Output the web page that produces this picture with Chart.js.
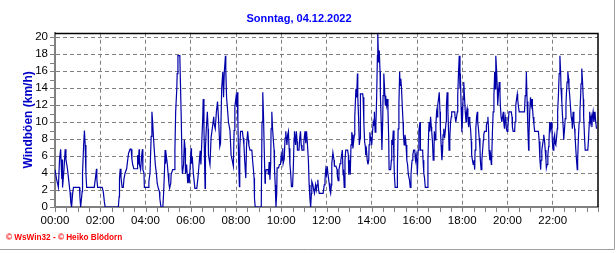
<!DOCTYPE html>
<html>
<head>
<meta charset="utf-8">
<script src="https://cdn.jsdelivr.net/npm/chart.js@4.4.1/dist/chart.umd.min.js"></script>
<style>
  html, body { margin: 0; padding: 0; background: #fff; }
  #wrap { width: 616px; height: 253px; }
</style>
</head>
<body>
<div id="wrap"><canvas id="gust_chart" width="616" height="253"></canvas></div>
<script>
// minutes after midnight and wind gust (km/h)
const times = [
    0, 4, 9, 12, 15, 18, 19, 20, 24, 27, 29, 33, 37, 40, 42, 44, 47, 49, 65, 66,
    68, 72, 73, 76, 78, 80, 82, 84, 104, 107, 110, 111, 113, 125, 128, 131, 133, 168, 170, 171,
    173, 175, 178, 181, 183, 186, 190, 193, 195, 199, 202, 204, 206, 209, 218, 219, 221, 223, 224, 227,
    230, 232, 233, 236, 237, 247, 249, 252, 255, 257, 259, 261, 263, 266, 269, 271, 274, 277, 278, 281,
    286, 288, 290, 292, 293, 295, 298, 300, 302, 304, 307, 308, 312, 316, 318, 320, 323, 324, 326, 331,
    333, 335, 337, 338, 341, 343, 345, 346, 349, 352, 354, 356, 361, 362, 364, 367, 371, 376, 379, 382,
    385, 387, 392, 393, 395, 398, 399, 401, 404, 406, 407, 411, 414, 417, 421, 422, 425, 428, 431, 434,
    437, 439, 442, 445, 447, 449, 452, 453, 455, 458, 460, 464, 467, 470, 473, 475, 477, 480, 482, 483,
    485, 487, 489, 490, 492, 497, 499, 501, 503, 505, 506, 508, 511, 513, 514, 517, 522, 524, 526, 528,
    529, 531, 547, 549, 551, 553, 555, 557, 558, 560, 565, 566, 568, 570, 572, 573, 575, 577, 579, 581,
    582, 584, 586, 588, 589, 593, 595, 598, 600, 602, 604, 605, 608, 610, 612, 615, 617, 619, 621, 623,
    625, 627, 630, 632, 634, 635, 638, 640, 642, 643, 647, 649, 651, 653, 655, 658, 660, 663, 665, 667,
    669, 672, 674, 676, 678, 680, 681, 684, 686, 688, 691, 693, 695, 697, 699, 701, 711, 714, 716, 718,
    720, 722, 724, 727, 729, 731, 733, 734, 737, 740, 741, 745, 748, 749, 751, 753, 756, 758, 760, 762,
    764, 765, 767, 769, 771, 776, 778, 779, 781, 783, 785, 787, 788, 790, 792, 794, 795, 798, 800, 802,
    803, 805, 807, 809, 810, 816, 817, 819, 821, 823, 824, 826, 828, 830, 832, 833, 835, 837, 839, 840,
    842, 844, 846, 847, 849, 851, 853, 855, 856, 858, 860, 862, 863, 865, 867, 869, 870, 872, 874, 876,
    877, 879, 881, 883, 885, 886, 890, 892, 893, 895, 897, 899, 900, 902, 907, 908, 910, 912, 914, 915,
    917, 919, 921, 923, 924, 926, 928, 930, 931, 933, 935, 937, 940, 942, 944, 946, 947, 949, 951, 954,
    956, 958, 960, 961, 963, 965, 968, 969, 975, 976, 978, 980, 982, 987, 989, 991, 992, 994, 996, 998,
    999, 1001, 1003, 1005, 1006, 1008, 1010, 1012, 1014, 1015, 1017, 1019, 1021, 1022, 1024, 1026, 1028, 1029, 1031, 1033,
    1035, 1037, 1038, 1040, 1042, 1044, 1045, 1047, 1049, 1051, 1052, 1060, 1061, 1063, 1065, 1067, 1068, 1070, 1072, 1074,
    1075, 1077, 1079, 1081, 1082, 1084, 1086, 1088, 1090, 1091, 1093, 1095, 1097, 1098, 1100, 1102, 1104, 1105, 1107, 1109,
    1111, 1113, 1114, 1116, 1118, 1120, 1121, 1123, 1125, 1127, 1128, 1130, 1132, 1134, 1136, 1137, 1139, 1143, 1144, 1146,
    1148, 1150, 1151, 1153, 1155, 1157, 1158, 1160, 1162, 1164, 1166, 1167, 1169, 1171, 1173, 1174, 1176, 1178, 1180, 1181,
    1183, 1185, 1187, 1189, 1190, 1192, 1194, 1196, 1197, 1199, 1201, 1203, 1204, 1210, 1212, 1213, 1215, 1219, 1220, 1222,
    1224, 1226, 1227, 1229, 1231, 1245, 1247, 1249, 1250, 1252, 1254, 1256, 1257, 1259, 1261, 1263, 1265, 1266, 1268, 1270,
    1272, 1282, 1284, 1286, 1288, 1289, 1291, 1293, 1295, 1296, 1298, 1300, 1302, 1303, 1305, 1307, 1309, 1310, 1312, 1314,
    1316, 1318, 1319, 1321, 1323, 1325, 1326, 1328, 1330, 1332, 1333, 1335, 1337, 1339, 1341, 1342, 1344, 1346, 1348, 1349,
    1351, 1353, 1355, 1356, 1358, 1360, 1362, 1363, 1365, 1367, 1369, 1371, 1372, 1374, 1376, 1378, 1379, 1381, 1383, 1385,
    1386, 1388, 1390, 1392, 1394, 1395, 1397, 1399, 1401, 1402, 1404, 1406, 1413, 1415, 1417, 1418, 1420, 1422, 1424, 1425,
    1427, 1429, 1431, 1432, 1434, 1436
]
const gusts = [
    4.4, 3.3, 2.3, 5.6, 6.8, 3.3, 5.6, 2.3, 4.5, 6.8, 5.6, 4.5, 2.9, 1.7, 0.5, 0, 1.7, 2.3, 2.3, 1.2,
    0, 1.8, 4, 7.3, 9, 7.3, 4, 2.3, 2.3, 3.3, 4.5, 3.3, 2.3, 2.3, 1.8, 0.6, 0, 0, 1.2, 3.3,
    4.5, 3.5, 2.3, 2.3, 3.3, 4, 4.5, 5.6, 6.3, 6.8, 6.8, 5.6, 5, 4.5, 4.5, 6.1, 5, 6.8, 5, 4.4,
    6.1, 6.8, 4.4, 4, 2.3, 2.3, 3, 4, 8.3, 11.2, 10, 8.3, 6.9, 5, 3.9, 2.8, 2.2, 1.8, 1, 0,
    0, 1.6, 3.8, 6.7, 5.1, 6.1, 5, 3.9, 2.8, 2.2, 2.8, 3.8, 4.4, 4.4, 6.7, 11.2, 13.9, 15.7, 17.8, 17.8,
    13.9, 10, 4.6, 3.9, 5, 7.9, 6.9, 3.9, 5, 2.8, 3.9, 2.8, 6.9, 5.1, 5.9, 3.9, 2.2, 2.2, 3.4, 5,
    6.6, 5, 10.8, 12.7, 9.2, 2.2, 6.9, 9, 11.2, 9.2, 6.1, 5, 8.2, 9.2, 10.6, 9.8, 9.2, 11.2, 12.4, 10.1,
    7.1, 7.5, 13.9, 15.9, 12.9, 15.9, 17.8, 16, 12.9, 11.2, 10, 9, 6.1, 5.5, 4.8, 9, 11.8, 12.9, 11.8, 13.5,
    10, 5.5, 2.4, 6.9, 8.9, 8.9, 8.1, 7.3, 5.5, 4, 3.4, 7.3, 8.9, 7.9, 7.3, 6.7, 6.7, 5.5, 4.5, 3.4,
    1, 0, 0, 10, 13.5, 10.6, 6.5, 2.8, 3.8, 4.4, 4.4, 3.8, 5.3, 3.2, 5.1, 9.2, 11.2, 9.2, 7.9, 6.7,
    4.6, 2.6, 0, 1.6, 4.6, 4.6, 5, 5, 6.1, 5.5, 6.9, 5.1, 5.7, 8.1, 8.9, 7.3, 8.5, 8.9, 6.9, 5,
    4, 2.4, 2.4, 4.6, 8.1, 8.9, 7.3, 8.9, 7.7, 6.7, 6.7, 8.1, 8.9, 7.3, 6.7, 6.7, 7.7, 8.9, 7.5, 8.9,
    7.7, 5.5, 2.6, 1, 0, 1.6, 3, 2.6, 2, 1.6, 2.6, 2, 2.6, 3.2, 2, 1.6, 1.6, 2.6, 3.2, 4.4,
    3.8, 4.8, 3.8, 2.8, 2, 1.6, 2.6, 5.1, 6.4, 5.5, 4.8, 4.8, 4.4, 3.6, 3.1, 4.4, 5.1, 5.5, 6.1, 6.7,
    3.8, 4.4, 2.3, 5.5, 6.7, 6.7, 6.1, 3.8, 5.5, 3.8, 7.3, 8.8, 8.5, 6.9, 7.7, 8.5, 10.6, 13.9, 12.9, 15.7,
    12.9, 10.6, 7.3, 8.1, 13.3, 13.3, 12.9, 10, 7.7, 7.1, 6.1, 6.7, 5.5, 5, 5.5, 7.3, 8.8, 7.9, 8.1, 7.3,
    8.8, 10, 9.6, 11.2, 8.8, 9.6, 12.9, 17.8, 20.5, 17, 18.4, 15.9, 13.1, 10, 6.7, 10, 13.1, 15.7, 13.9, 12,
    13.1, 12, 12.7, 11.4, 7.9, 4.4, 4.4, 5.5, 7.9, 7.3, 9, 5.3, 3.8, 2.3, 2.3, 4.6, 9.2, 12, 15.9, 14.3,
    15.1, 13.9, 11.8, 10, 8.5, 7.3, 8.5, 7.9, 7.3, 5.5, 5, 3.8, 3.2, 2.3, 3.8, 5, 5.5, 6.1, 6.7, 6.7,
    5.5, 6.1, 5, 3.8, 6.7, 9, 10, 6.7, 6.7, 5.5, 4, 3.4, 2.3, 2.3, 5.5, 8.9, 10, 8.9, 10.6, 9.4,
    8.9, 7.7, 5.5, 6.1, 8.9, 7.9, 9.6, 11.2, 10.6, 12, 12.7, 13.5, 11.2, 9.2, 7.3, 5.5, 6.7, 8.5, 9.2, 8.1,
    8.9, 10, 12, 13.5, 11.2, 8.5, 6.7, 8.1, 10, 10.6, 11.2, 11.2, 10.6, 10, 10.6, 11.2, 13.1, 15.7, 17.8, 13.9,
    15.7, 11.8, 8.8, 10.8, 12.7, 14.7, 12.9, 11.2, 10, 11, 11.6, 10.4, 9.4, 10.6, 10, 9.2, 7.7, 6.1, 5.5, 5,
    5.5, 4.4, 6.7, 9.2, 10.6, 11.2, 10, 9.2, 8.1, 6.9, 5.5, 4.4, 5.5, 6.7, 7.9, 8.5, 8.9, 8.9, 9.6, 10,
    10.6, 8.9, 6.7, 5.5, 6.1, 5, 5.5, 8.8, 11.2, 13.1, 15.9, 13.9, 17.8, 16.1, 13.9, 12, 13.3, 14.7, 13.5, 12,
    10.6, 10, 10.6, 11.2, 10, 9.2, 10.6, 10, 9.2, 8.9, 9.4, 10.6, 11.2, 11.2, 10.6, 9.4, 8.9, 8.9, 10, 12,
    12.7, 13.3, 12.7, 11.8, 11.2, 11.2, 13.1, 13.5, 15.9, 12.4, 9.2, 6.7, 8.5, 11.2, 12.9, 12, 12.7, 11.8, 10.6, 9.8,
    8.9, 8.9, 7.7, 5.5, 4.4, 5.5, 6.7, 7.3, 7.9, 8.5, 7.9, 6.7, 5.5, 4.6, 5, 6.1, 7.1, 7.7, 10, 9.2,
    10, 8.9, 7.7, 6.7, 8.1, 8.5, 7.5, 7.3, 8.1, 9.2, 11.2, 13.1, 15.7, 17.8, 15.7, 13.9, 12.4, 10.6, 9.2, 7.9,
    9, 10.4, 12, 13.1, 14.7, 15.9, 15.1, 14.1, 13.1, 11.8, 10.6, 10, 9.2, 11.2, 10, 9.2, 8.5, 6.9, 5.5, 4.4,
    5.5, 8.1, 10, 11.2, 13.1, 14.5, 16.3, 14.7, 12.7, 10.6, 8.5, 6.7, 6.7, 8.1, 10, 11.2, 10, 10.6, 9.4, 10.6,
    11.2, 10, 10.6, 11.2, 10, 9.2
]

const x_ticks = [0, 120, 240, 360, 480, 600, 720, 840, 960, 1080, 1200, 1320]
const x_labels = ["00:00", "02:00", "04:00", "06:00", "08:00", "10:00", "12:00", "14:00", "16:00", "18:00", "20:00", "22:00"]
const y_ticks = [0, 2, 4, 6, 8, 10, 12, 14, 16, 18, 20]

const title_text = "Sonntag, 04.12.2022"
const y_title = "Windböen (km/h)"
const footer_text = "© WsWin32 - © Heiko Blödorn"

const frame_plugin = {
    id: "frame",
    afterDraw(chart) {
        const ctx = chart.ctx
        const area = chart.chartArea
        const xs = chart.scales.x
        const ys = chart.scales.y
        ctx.save()
        // small ticks, every half hour and every km/h
        ctx.strokeStyle = "#808080"
        ctx.lineWidth = 1
        ctx.beginPath()
        for (let m = 0; m <= 1440; m += 30) {
            const px = Math.round(xs.getPixelForValue(m)) + 0.5
            ctx.moveTo(px, area.bottom + 1)
            ctx.lineTo(px, area.bottom + 5)
        }
        for (let v = 0; v <= 20; v += 1) {
            const py = Math.round(ys.getPixelForValue(v)) + 0.5
            ctx.moveTo(area.left - 5, py)
            ctx.lineTo(area.left - 1, py)
        }
        ctx.stroke()
        // black top and right border
        ctx.strokeStyle = "#000"
        ctx.lineWidth = 1.5
        ctx.beginPath()
        ctx.moveTo(area.left, Math.round(area.top) + 0.5)
        ctx.lineTo(area.right, Math.round(area.top) + 0.5)
        ctx.moveTo(Math.round(area.right), area.top)
        ctx.lineTo(Math.round(area.right), area.bottom)
        ctx.stroke()
        // outer frame
        ctx.strokeStyle = "#a0a0a0"
        ctx.lineWidth = 1
        ctx.beginPath()
        ctx.moveTo(614.5, 0)
        ctx.lineTo(614.5, 249.5)
        ctx.lineTo(0, 249.5)
        ctx.stroke()
        // footer
        ctx.fillStyle = "#ff0000"
        ctx.font = "bold 8.2px 'Liberation Sans', Arial, sans-serif"
        ctx.textBaseline = "middle"
        ctx.fillText(footer_text, 6, 238)
        ctx.restore()
    }
}

const gust_config = {
    type: "line",
    data: {
        datasets: [{
            data: times.map((t, i) => ({ x: t, y: gusts[i] })),
            borderColor: "#0000a8",
            borderWidth: 1.2,
            pointRadius: 0,
            tension: 0,
            fill: false
        }]
    },
    options: {
        responsive: false,
        animation: false,
        layout: { padding: { left: 0, right: 18, top: 0, bottom: 0 } },
        plugins: {
            legend: { display: false },
            tooltip: { enabled: false },
            title: {
                display: true,
                text: title_text,
                color: "#0000ff",
                font: { family: "'Liberation Sans', Arial, sans-serif", size: 11, weight: "bold" },
                padding: { top: 12.4, bottom: 7.15 }
            }
        },
        scales: {
            x: {
                type: "linear",
                min: 0,
                max: 1440,
                afterBuildTicks: (scale) => { scale.ticks = x_ticks.map((v) => ({ value: v })) },
                afterFit: (scale) => { scale.height = 46 },
                ticks: {
                    autoSkip: false,
                    maxRotation: 0,
                    padding: 7,
                    color: "#000",
                    font: { family: "'Liberation Sans', Arial, sans-serif", size: 11.5 },
                    callback: (value, index) => x_labels[index]
                },
                grid: { color: "#808080", lineWidth: 1, drawTicks: false },
                border: { display: true, color: "#808080", width: 2, dash: [4, 3] }
            },
            y: {
                min: 0,
                max: 20.5,
                afterBuildTicks: (scale) => { scale.ticks = y_ticks.map((v) => ({ value: v })) },
                afterFit: (scale) => { scale.width = 55 },
                ticks: {
                    padding: 7,
                    color: "#000",
                    font: { family: "'Liberation Sans', Arial, sans-serif", size: 11.5 }
                },
                grid: { color: "#808080", lineWidth: 1, drawTicks: false },
                border: { display: true, color: "#808080", width: 2, dash: [4, 3] },
                title: {
                    display: true,
                    text: y_title,
                    color: "#0000c8",
                    font: { family: "'Liberation Sans', Arial, sans-serif", size: 12, weight: "bold" },
                    padding: { top: 21, bottom: 0 }
                }
            }
        }
    },
    plugins: [frame_plugin]
}

var ctx_gust = document.getElementById("gust_chart")
var gust_chart = new Chart(ctx_gust, gust_config)
</script>
</body>
</html>
